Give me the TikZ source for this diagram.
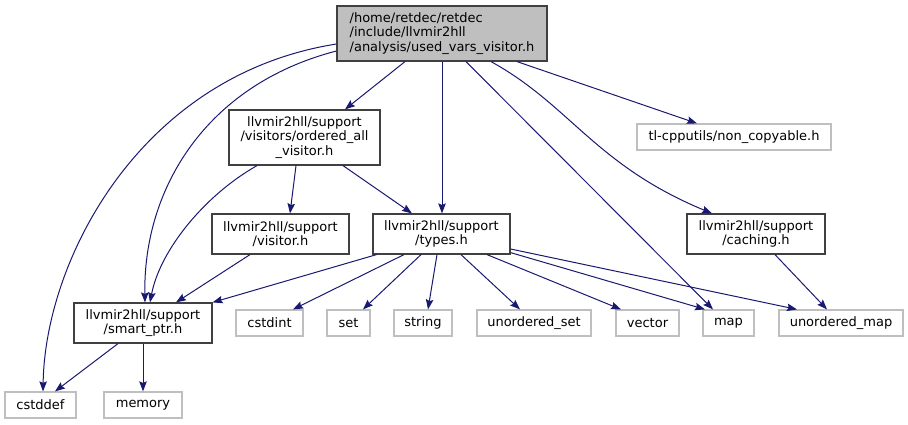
\documentclass[tikz,border=0pt]{standalone}
\usepackage{fontspec}
\setmainfont{DejaVu Sans}
\usetikzlibrary{arrows.meta}

\begin{document}
\begin{tikzpicture}[x=1pt,y=-1pt,
    font=\fontsize{13}{14.6}\selectfont,
    incl/.style={rectangle,draw={black!75},line width=1.2pt,inner sep=0pt},
    extern/.style={rectangle,draw={black!25},line width=1.2pt,inner sep=0pt,minimum height=26pt},
    dep/.style={draw={rgb,255:red,25;green,25;blue,112},line width=1pt,-{Stealth[length=10pt,width=7.5pt,inset=1.5pt]}}]
    \useasboundingbox (0,0) rectangle (908,424);

    % nodes
    \node (top) at (442,33.5) [incl,fill={black!25},minimum width=210pt,minimum height=55pt,align=left] {/home/retdec/retdec\\/include/llvmir2hll\\/analysis/used\_vars\_visitor.h};
    \node (ordall) at (304.5,137.5) [incl,minimum width=151pt,minimum height=55pt,align=center] {llvmir2hll/support\\/visitors/ordered\_all\\\_visitor.h};
    \node (noncopy) at (734,137) [extern,minimum width=194pt] {tl-cpputils/non\_copyable.h};
    \node (visitor) at (280.5,234) [incl,minimum width=137pt,minimum height=40pt,align=center] {llvmir2hll/support\\/visitor.h};
    \node (types) at (441.5,234) [incl,minimum width=137pt,minimum height=40pt,align=center] {llvmir2hll/support\\/types.h};
    \node (caching) at (756,234) [incl,minimum width=138pt,minimum height=40pt,align=center] {llvmir2hll/support\\/caching.h};
    \node (smartptr) at (143,323) [incl,minimum width=138pt,minimum height=40pt,align=center] {llvmir2hll/support\\/smart\_ptr.h};
    \node (cstdint) at (269.5,323) [extern,minimum width=67pt] {cstdint};
    \node (set) at (348.5,323) [extern,minimum width=43pt] {set};
    \node (string) at (423,323) [extern,minimum width=58pt] {string};
    \node (uset) at (534,323) [extern,minimum width=114pt] {unordered\_set};
    \node (vector) at (647.5,323) [extern,minimum width=63pt] {vector};
    \node (map) at (728.5,323) [extern,minimum width=51pt] {map};
    \node (umap) at (841,323) [extern,minimum width=124pt] {unordered\_map};
    \node (cstddef) at (40.5,405) [extern,minimum width=71pt] {cstddef};
    \node (memory) at (143,405) [extern,minimum width=78pt] {memory};

    % paths
    \draw[dep] ([yshift=-10.5pt]top.west) .. controls (140,75) and (45,260) .. ([xshift=2.5pt]cstddef.north); % top -> cstddef
    \draw[dep] ([yshift=-17.5pt]top.west) .. controls (205,85) and (143,190) .. ([xshift=2pt]smartptr.north); % top -> smart_ptr
    \draw[dep] ([xshift=-37pt]top.south) to ([xshift=40.5pt]ordall.north); % top -> ordered_all
    \draw[dep] (top.south) to (top.south |- types.north); % top -> types
    \draw[dep] ([xshift=24pt]top.south) to ([xshift=-15.5pt]map.north); % top -> map
    \draw[dep] ([xshift=49pt]top.south) .. controls (570,105) and (595,165) .. ([xshift=-44pt]caching.north); % top -> caching
    \draw[dep] ([xshift=75pt]top.south) to ([xshift=-37pt]noncopy.north); % top -> non_copyable
    \draw[dep] ([xshift=-8.5pt]ordall.south) to ([xshift=9.5pt]visitor.north); % ordered_all -> visitor
    \draw[dep] ([xshift=38.5pt]ordall.south) to ([xshift=-29.5pt]types.north); % ordered_all -> types
    \draw[dep] ([xshift=-47.5pt]ordall.south) .. controls (205,195) and (160,250) .. ([xshift=7pt]smartptr.north); % ordered_all -> smart_ptr
    \draw[dep] ([xshift=-30.5pt]visitor.south) to ([xshift=33pt]smartptr.north); % visitor -> smart_ptr
    \draw[dep] ([xshift=-65pt]types.south) to (smartptr.north east); % types -> smart_ptr
    \draw[dep] ([xshift=-37.5pt]types.south) to ([xshift=23.5pt]cstdint.north); % types -> cstdint
    \draw[dep] ([xshift=-20.5pt]types.south) to ([xshift=14.5pt]set.north); % types -> set
    \draw[dep] ([xshift=-4.5pt]types.south) to ([xshift=5pt]string.north); % types -> string
    \draw[dep] ([xshift=19.5pt]types.south) to ([xshift=-14pt]uset.north); % types -> unordered_set
    \draw[dep] ([xshift=45.5pt]types.south) to ([xshift=-26.5pt]vector.north); % types -> vector
    \draw[dep] ([yshift=2pt]types.south east) to ([xshift=-23.5pt]map.north); % types -> map
    \draw[dep] ([yshift=-15pt]types.east) to ([xshift=-44pt]umap.north); % types -> unordered_map
    \draw[dep] ([xshift=19pt]caching.south) to ([xshift=-14pt]umap.north); % caching -> unordered_map
    \draw[dep] ([xshift=-25pt]smartptr.south) to ([xshift=14.5pt]cstddef.north); % smart_ptr -> cstddef
    \draw[dep] (smartptr.south) to (memory.north); % smart_ptr -> memory

\end{tikzpicture}
\end{document}
